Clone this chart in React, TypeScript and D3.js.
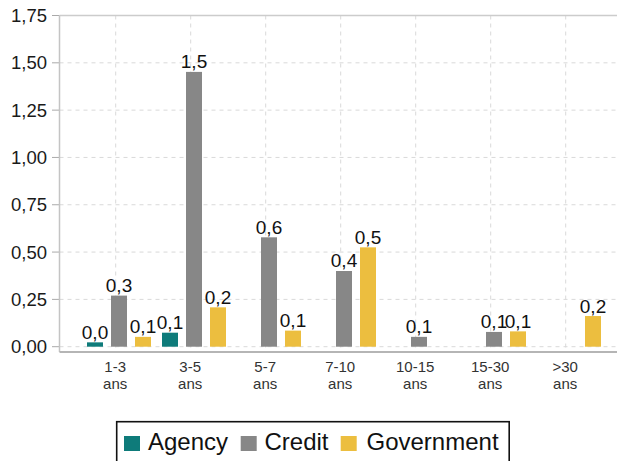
import React from "react";
import * as d3 from "d3";

const categories = ["1-3 ans", "3-5 ans", "5-7 ans", "7-10 ans", "10-15 ans", "15-30 ans", ">30 ans"];
const seriesNames = ["Agency", "Credit", "Government"];
const agency: (number | null)[] = [0.023, 0.074, null, null, null, null, null];
const credit: (number | null)[] = [0.27, 1.452, 0.578, 0.4, 0.052, 0.078, null];
const government: (number | null)[] = [0.052, 0.208, 0.085, 0.525, null, 0.081, 0.162];
const yTicks = [0, 0.25, 0.5, 0.75, 1.0, 1.25, 1.5, 1.75];
const colors = ["#0e7b7a", "#878787", "#ecbe3f"];

const W = 617;
const H = 461;
const left = 59.5;
const right = 617;
const top = 15.5;
const zeroY = 346.7;
const baseY = 352;

export default function App() {
  const seriesValues = [agency, credit, government];
  const y = d3.scaleLinear().domain([0, 1.75]).range([zeroY, top]);
  const x = d3.scaleBand().domain(categories).range([78.2, 78.2 + 75 * 7]).padding(0);
  const inner = d3
    .scaleBand()
    .domain(seriesNames)
    .range([-32.7, 39.3])
    .paddingInner(1 / 3)
    .paddingOuter(1 / 6);
  const fmt = (v: number) => d3.format(".1f")(v).replace(".", ",");
  const yFmt = (v: number) => d3.format(".2f")(v).replace(".", ",");
  const font = "'Liberation Sans', Arial, Helvetica, sans-serif";

  const legendItems = [
    { name: "Agency", sx: 124, tx: 148 },
    { name: "Credit", sx: 240.7, tx: 264.5 },
    { name: "Government", sx: 340.7, tx: 366.5 },
  ];

  return (
    <svg
      width={W}
      height={H}
      style={{ position: "absolute", left: 0, top: 0, background: "#fff" }}
      fontFamily={font}
    >
      <rect x={0} y={0} width={W} height={H} fill="#fff" />
      {yTicks.map((t) => (
        <g key={"g" + t}>
          {t !== 1.75 && (
            <line
              x1={left}
              x2={right}
              y1={y(t)}
              y2={y(t)}
              stroke="#d9d9d9"
              strokeWidth={1}
              strokeDasharray="4,4"
            />
          )}
          <line x1={52} x2={left} y1={y(t)} y2={y(t)} stroke="#aaa" strokeWidth={1} />
          <text
            x={47}
            y={y(t)}
            dy="0.36em"
            textAnchor="end"
            fontSize={18.5}
            fill="#1a1a1a"
          >
            {yFmt(t)}
          </text>
        </g>
      ))}
      {categories.map((c) => {
        const cx = (x(c) as number) + x.bandwidth() / 2;
        return (
          <line
            key={"v" + c}
            x1={cx}
            x2={cx}
            y1={top}
            y2={baseY}
            stroke="#d9d9d9"
            strokeWidth={1}
            strokeDasharray="4,4"
          />
        );
      })}
      <line x1={left} x2={right} y1={top} y2={top} stroke="#cccccc" strokeWidth={1.5} />
      <line x1={left} x2={left} y1={top} y2={baseY} stroke="#c4c4c4" strokeWidth={1.5} />
      {categories.map((c, i) => {
        const cx = (x(c) as number) + x.bandwidth() / 2;
        return (
          <g key={"b" + c}>
            {seriesNames.map((s, j) => {
              const v = seriesValues[j][i];
              if (v === null || v === undefined) return null;
              const bx = cx + (inner(s) as number);
              const bw = inner.bandwidth();
              return (
                <g key={s}>
                  <rect
                    x={bx}
                    y={y(v)}
                    width={bw}
                    height={zeroY - y(v)}
                    fill={colors[j]}
                  />
                  <text
                    x={bx + bw / 2}
                    y={y(v) - 3.5}
                    textAnchor="middle"
                    fontSize={19}
                    fill="#111"
                  >
                    {fmt(v)}
                  </text>
                </g>
              );
            })}
          </g>
        );
      })}
      <line x1={left} x2={right} y1={baseY} y2={baseY} stroke="#b5b5b5" strokeWidth={2} />
      {categories.map((c) => {
        const cx = (x(c) as number) + x.bandwidth() / 2;
        const parts = c.split(" ");
        return (
          <text key={"l" + c} x={cx} textAnchor="middle" fontSize={15} fill="#333">
            <tspan x={cx - 0.5} y={371.5}>
              {parts[0]}
            </tspan>
            <tspan x={cx - 0.5} y={388.5}>
              {parts[1]}
            </tspan>
          </text>
        );
      })}
      <rect x={116.7} y={421.7} width={392.5} height={50} fill="none" stroke="#111" strokeWidth={1.6} />
      {legendItems.map((it, j) => (
        <g key={it.name}>
          <rect x={it.sx} y={436} width={16} height={15} fill={colors[j]} />
          <text x={it.tx} y={449.5} fontSize={24} fill="#111">
            {it.name}
          </text>
        </g>
      ))}
    </svg>
  );
}
